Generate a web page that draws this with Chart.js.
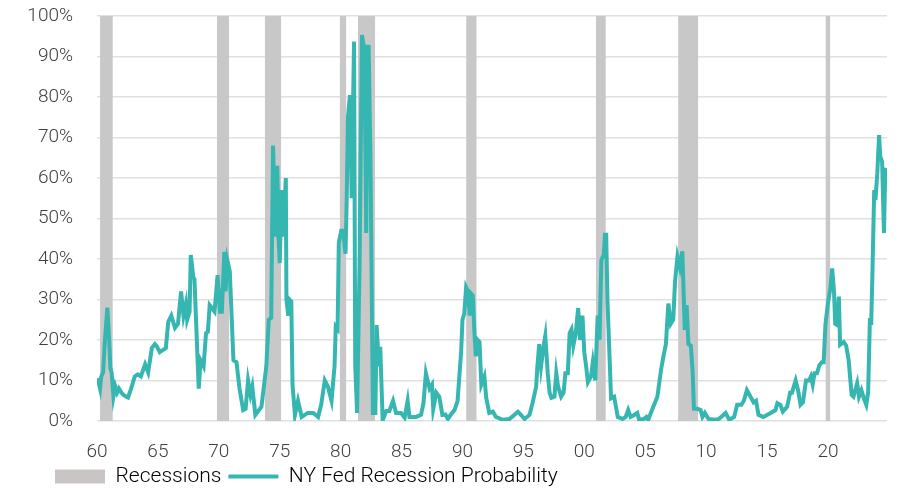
<!DOCTYPE html>
<html>
<head>
<meta charset="utf-8">
<script src="https://cdn.jsdelivr.net/npm/chart.js@4.4.1/dist/chart.umd.min.js"></script>
<style>
  html, body { margin: 0; padding: 0; background: #fff; }
  #wrap { width: 900px; height: 488px; }
</style>
</head>
<body>
<div id="wrap"><canvas id="recChart"></canvas></div>
<script>
// NY Fed recession probability (year, %)
const probYears = [
  1960.0, 1960.1, 1960.25, 1960.35, 1960.5, 1960.65, 1960.85, 1961.0, 1961.1, 1961.2,
  1961.35, 1961.5, 1961.65, 1961.8, 1962.0, 1962.15, 1962.4, 1962.55, 1962.8, 1963.1,
  1963.35, 1963.6, 1963.95, 1964.2, 1964.5, 1964.75, 1964.9, 1965.15, 1965.4, 1965.65,
  1965.85, 1966.1, 1966.4, 1966.65, 1966.9, 1967.1, 1967.3, 1967.4, 1967.6, 1967.7,
  1967.9, 1968.0, 1968.35, 1968.5, 1968.75, 1968.95, 1969.1, 1969.25, 1969.5, 1969.65,
  1969.9, 1970.1, 1970.25, 1970.45, 1970.55, 1970.7, 1970.9, 1971.2, 1971.45, 1971.7,
  1972.0, 1972.2, 1972.4, 1972.6, 1972.75, 1973.0, 1973.5, 1973.9, 1974.1, 1974.3,
  1974.45, 1974.65, 1974.8, 1974.9, 1975.0, 1975.15, 1975.3, 1975.5, 1975.55, 1975.7,
  1975.8, 1975.95, 1976.05, 1976.25, 1976.5, 1976.8, 1977.3, 1977.75, 1978.15, 1978.4,
  1978.7, 1978.95, 1979.25, 1979.5, 1979.6, 1979.75, 1979.85, 1980.05, 1980.2, 1980.4,
  1980.5, 1980.6, 1980.75, 1980.8, 1980.9, 1981.1, 1981.2, 1981.35, 1981.55, 1981.75,
  1981.95, 1982.1, 1982.2, 1982.3, 1982.45, 1982.65, 1982.85, 1982.95, 1983.15, 1983.25,
  1983.45, 1983.75, 1984.0, 1984.3, 1984.55, 1984.95, 1985.25, 1985.5, 1985.65, 1986.2,
  1986.6, 1986.8, 1987.0, 1987.3, 1987.5, 1987.6, 1987.85, 1988.1, 1988.35, 1988.6,
  1988.8, 1989.05, 1989.35, 1989.6, 1989.9, 1990.0, 1990.15, 1990.3, 1990.45, 1990.6,
  1990.7, 1990.85, 1991.0, 1991.1, 1991.25, 1991.4, 1991.55, 1991.8, 1991.95, 1992.2,
  1992.5, 1992.75, 1993.3, 1993.85, 1994.25, 1994.55, 1994.8, 1995.1, 1995.5, 1995.75,
  1996.05, 1996.15, 1996.3, 1996.45, 1996.65, 1996.8, 1997.0, 1997.15, 1997.3, 1997.55,
  1997.7, 1997.85, 1998.1, 1998.3, 1998.45, 1998.65, 1998.8, 1998.95, 1999.1, 1999.3,
  1999.5, 1999.65, 1999.85, 2000.0, 2000.15, 2000.3, 2000.55, 2000.7, 2000.9, 2001.1,
  2001.25, 2001.4, 2001.6, 2001.7, 2001.8, 2001.9, 2002.2, 2002.45, 2002.75, 2003.15,
  2003.4, 2003.6, 2003.8, 2004.1, 2004.35, 2004.5, 2004.9, 2005.1, 2005.25, 2005.6,
  2006.0, 2006.3, 2006.5, 2006.7, 2006.9, 2007.1, 2007.3, 2007.45, 2007.65, 2007.85,
  2008.05, 2008.25, 2008.4, 2008.55, 2008.75, 2008.9, 2009.0, 2009.3, 2009.55, 2009.7,
  2009.9, 2010.2, 2010.8, 2011.05, 2011.6, 2011.9, 2012.3, 2012.55, 2012.9, 2013.1,
  2013.35, 2013.65, 2013.9, 2014.1, 2014.3, 2014.7, 2015.3, 2015.7, 2015.85, 2016.1,
  2016.3, 2016.65, 2016.9, 2017.05, 2017.35, 2017.55, 2017.75, 2017.95, 2018.2, 2018.45,
  2018.6, 2018.75, 2018.9, 2019.1, 2019.3, 2019.5, 2019.65, 2019.8, 2020.0, 2020.2,
  2020.35, 2020.5, 2020.6, 2020.75, 2020.9, 2021.0, 2021.3, 2021.5, 2021.7, 2021.95,
  2022.1, 2022.4, 2022.55, 2022.75, 2022.95, 2023.15, 2023.3, 2023.45, 2023.55, 2023.65,
  2023.8, 2023.9, 2024.05, 2024.2, 2024.3, 2024.45, 2024.6, 2024.7, 2024.8
];
const probValues = [
  10.5, 10, 8, 11, 12, 20, 28, 20, 13, 12,
  6, 8.5, 7, 8, 7, 6.5, 6, 5.8, 8, 11,
  11.5, 11, 14, 12, 18, 19, 18.5, 17, 17.5, 18,
  24.5, 26, 23, 24, 32, 26, 29, 25, 27, 41,
  35.6, 35, 8, 15, 13.5, 21.7, 22, 28.6, 27.6, 27,
  36, 27, 27, 41.8, 32, 39.7, 37, 15, 14.5, 8,
  2.7, 3, 10, 6.5, 8.5, 1.5, 3.5, 13.5, 25, 25.5,
  68, 45.5, 63, 45.5, 39, 57, 45.5, 60, 30, 26,
  30, 29.5, 9, 1.5, 5, 1, 2, 2, 1, 4,
  10, 8.5, 5, 13.5, 23.3, 22.7, 44, 47, 47, 41.3,
  55, 75, 80, 80, 55, 93.7, 13.5, 2, 38, 95.3,
  91.7, 46.4, 92.4, 92.4, 64.4, 2, 2, 23.7, 13.5, 18.3,
  0.2, 2.5, 2.5, 5, 2, 2, 0.8, 5, 1, 1,
  1.5, 4.4, 11.8, 8, 9, 3, 7, 6, 1.5, 1.6,
  0.5, 1.6, 2.7, 5, 17.5, 25, 26.5, 33, 32, 26,
  31.5, 31, 20.8, 16, 20, 19.5, 9, 11, 5.7, 2,
  2.3, 1, 0.3, 0.5, 1.5, 2.3, 1.5, 0.5, 1.5, 4.4,
  8.5, 13.5, 19, 13.5, 18.3, 21, 11.8, 7, 5.7, 6,
  11.8, 8.5, 6, 7, 11.8, 11.8, 21.7, 22.6, 18.6, 21.7,
  27.9, 20, 26, 17, 13.5, 9.6, 11, 14.5, 10, 26,
  20, 39.7, 41, 46, 46, 30, 5.6, 6, 1, 0.5,
  1, 2.7, 1, 1.5, 2, 0.3, 0.5, 1, 0.3, 3,
  6, 12.6, 16, 19, 29, 24, 25, 34.4, 40.6, 38,
  41.9, 22.5, 28.6, 19, 18.6, 11.8, 3, 3, 2.7, 1,
  2, 0.5, 0.3, 0.5, 2, 0.3, 1, 4, 4, 5,
  7.6, 6, 4.6, 5, 1.5, 1, 2, 2.7, 4.4, 4,
  2.3, 3.5, 7, 7, 10, 7.6, 4, 4.6, 10, 10,
  11, 9, 11.8, 11.8, 13.8, 14.5, 14.5, 24, 29, 32.8,
  37.7, 32, 24, 23.7, 30.7, 18.8, 19.5, 18.6, 15, 6.4,
  6, 9.3, 6, 7.6, 5.6, 4, 7, 25.4, 23.7, 36,
  57, 54.6, 61, 70.6, 65.3, 64, 46.4, 61, 62.5
];

// recession bands (start / end year)
const recessionStart = [1960.25, 1969.85, 1973.77, 1979.92, 1981.42, 1990.3, 2000.95, 2007.7, 2019.8];
const recessionEnd   = [1961.3, 1970.85, 1975.13, 1980.47, 1982.84, 1991.17, 2001.77, 2009.36, 2020.2];

const seriesLabels = ['Recessions', 'NY Fed Recession Probability'];

const TEAL = '#36b6b1';
const GREY = '#c8c8c8';
const LEGEND_GREY = '#c9c5c4';
const TEXT = '#404040';
const FONT = 'Roboto, Lato, sans-serif';

const probData = probYears.map((y, i) => ({ x: y, y: probValues[i] }));
const recData = [];
recessionStart.forEach((s, i) => {
  recData.push({ x: s, y: 100 }, { x: recessionEnd[i], y: 100 }, { x: recessionEnd[i], y: null });
});

// nudge the legend so it sits under the y labels, let x labels spill below their box
const legendShift = {
  id: 'legendShift',
  afterLayout(chart) {
    chart.legend.left += 48;
    chart.legend.top += 9;
    chart.legend.bottom += 9;
    chart.scales.x.bottom += 20;
  }
};

new Chart(document.getElementById('recChart'), {
  type: 'line',
  data: {
    datasets: [{
      label: seriesLabels[0],
      data: recData,
      borderWidth: 0,
      pointRadius: 0,
      backgroundColor: GREY,
      borderColor: GREY,
      fill: 'origin',
      spanGaps: false,
      order: 2
    }, {
      label: seriesLabels[1],
      data: probData,
      borderColor: TEAL,
      borderWidth: 4,
      pointRadius: 0,
      tension: 0,
      fill: false,
      order: 1
    }]
  },
  options: {
    responsive: true,
    maintainAspectRatio: false,
    animation: false,
    layout: { padding: { left: 0, right: 13, top: 0, bottom: 0 } },
    scales: {
      x: {
        type: 'linear',
        min: 1960,
        max: 2024.85,
        grid: { display: false, drawTicks: false },
        border: { display: false },
        afterBuildTicks: s => {
          s.ticks = s.ticks.filter(t => Math.abs(t.value / 5 - Math.round(t.value / 5)) < 1e-6);
        },
        afterFit: s => { s.height = 29; s.paddingLeft = 0; s.paddingRight = 0; },
        ticks: {
          stepSize: 5,
          includeBounds: false,
          padding: 20,
          maxRotation: 0,
          autoSkip: false,
          color: TEXT,
          font: { family: FONT, size: 19, weight: 300 },
          callback: v => String(Math.round(v) % 100).padStart(2, '0')
        }
      },
      y: {
        min: 0,
        max: 100,
        grid: { color: '#e0e0e0', lineWidth: 1.5, drawTicks: false },
        border: { display: false },
        ticks: {
          stepSize: 10,
          padding: 24,
          color: TEXT,
          font: { family: FONT, size: 19, weight: 300 },
          callback: v => v + '%'
        },
        afterFit: s => { s.width = 97; s.paddingTop = 16; s.paddingBottom = 11; }
      }
    },
    plugins: {
      tooltip: { enabled: false },
      legend: {
        position: 'bottom',
        align: 'start',
        labels: {
          usePointStyle: true,
          pointStyleWidth: 50,
          boxHeight: 14,
          padding: 7,
          color: TEXT,
          font: { family: FONT, size: 21, weight: 300 },
          generateLabels: () => [{
            text: seriesLabels[0], fillStyle: LEGEND_GREY, strokeStyle: LEGEND_GREY,
            lineWidth: 0, pointStyle: 'rect', datasetIndex: 0
          }, {
            text: seriesLabels[1], fillStyle: TEAL, strokeStyle: TEAL,
            lineWidth: 4, pointStyle: 'line', datasetIndex: 1
          }]
        }
      }
    }
  },
  plugins: [legendShift]
});
</script>
</body>
</html>
